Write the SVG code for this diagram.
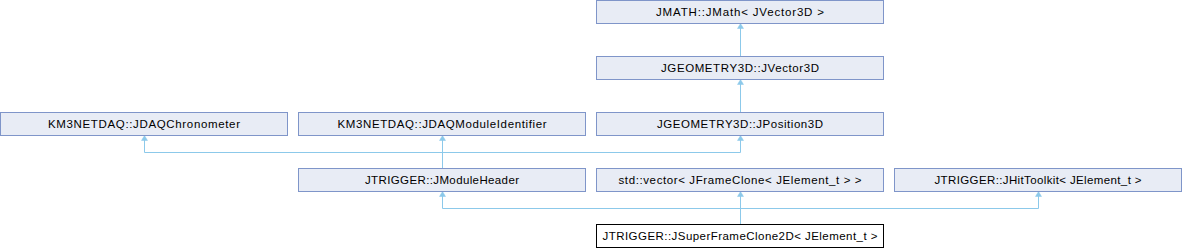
<svg xmlns="http://www.w3.org/2000/svg" width="1182" height="248" viewBox="0 0 1182 248">
<style>
.box rect{fill:#E8ECF5;stroke:#7F95C9;stroke-width:1}
.box.cur rect{fill:#FFFFFF;stroke:#000000}
.box text{font-family:"Liberation Sans",Arial,sans-serif;font-size:11.5px;fill:#000000;text-anchor:middle}
.edges path{fill:none;stroke:#8CC9EA;stroke-width:1}
.edges polygon{fill:#8CC9EA;stroke:#8CC9EA;stroke-width:0.5}
</style>
<rect width="1182" height="248" fill="#FFFFFF"/>
<g class="edges" id="connectors">
<path d="M740.5,56 V27"/>
<polygon points="740.5,23.5 737.5,28.5 743.5,28.5"/>
<path d="M740.5,112 V83"/>
<polygon points="740.5,79.5 737.5,84.5 743.5,84.5"/>
<path d="M442.5,168 V139"/>
<polygon points="442.5,135.5 439.5,140.5 445.5,140.5"/>
<path d="M144.5,139 V152.5 H740.5 V139"/>
<polygon points="144.5,135.5 141.5,140.5 147.5,140.5"/>
<polygon points="740.5,135.5 737.5,140.5 743.5,140.5"/>
<path d="M740.5,224 V195"/>
<polygon points="740.5,191.5 737.5,196.5 743.5,196.5"/>
<path d="M442.5,195 V208.5 H1038.5 V195"/>
<polygon points="442.5,191.5 439.5,196.5 445.5,196.5"/>
<polygon points="1038.5,191.5 1035.5,196.5 1041.5,196.5"/>
</g>
<g class="box" id="jmath">
<rect x="596.5" y="0.5" width="287" height="23"/>
<text x="740" y="16" textLength="168" lengthAdjust="spacing">JMATH::JMath&lt; JVector3D &gt;</text>
</g>
<g class="box" id="jvector3d">
<rect x="596.5" y="56.5" width="287" height="23"/>
<text x="740" y="72" textLength="158" lengthAdjust="spacing">JGEOMETRY3D::JVector3D</text>
</g>
<g class="box" id="jposition3d">
<rect x="596.5" y="112.5" width="287" height="23"/>
<text x="740" y="128" textLength="166" lengthAdjust="spacing">JGEOMETRY3D::JPosition3D</text>
</g>
<g class="box" id="jdaqchronometer">
<rect x="0.5" y="112.5" width="287" height="23"/>
<text x="144" y="128" textLength="192" lengthAdjust="spacing">KM3NETDAQ::JDAQChronometer</text>
</g>
<g class="box" id="jdaqmoduleidentifier">
<rect x="298.5" y="112.5" width="287" height="23"/>
<text x="442" y="128" textLength="209" lengthAdjust="spacing">KM3NETDAQ::JDAQModuleIdentifier</text>
</g>
<g class="box" id="jmoduleheader">
<rect x="298.5" y="168.5" width="287" height="23"/>
<text x="442" y="184" textLength="154" lengthAdjust="spacing">JTRIGGER::JModuleHeader</text>
</g>
<g class="box" id="stdvector">
<rect x="596.5" y="168.5" width="287" height="23"/>
<text x="740" y="184" textLength="243" lengthAdjust="spacing">std::vector&lt; JFrameClone&lt; JElement_t &gt; &gt;</text>
</g>
<g class="box" id="jhittoolkit">
<rect x="894.5" y="168.5" width="287" height="23"/>
<text x="1038" y="184" textLength="207" lengthAdjust="spacing">JTRIGGER::JHitToolkit&lt; JElement_t &gt;</text>
</g>
<g class="box cur" id="jsuperframeclone2d">
<rect x="596.5" y="224.5" width="287" height="23"/>
<text x="740" y="240" textLength="275" lengthAdjust="spacing">JTRIGGER::JSuperFrameClone2D&lt; JElement_t &gt;</text>
</g>
</svg>
